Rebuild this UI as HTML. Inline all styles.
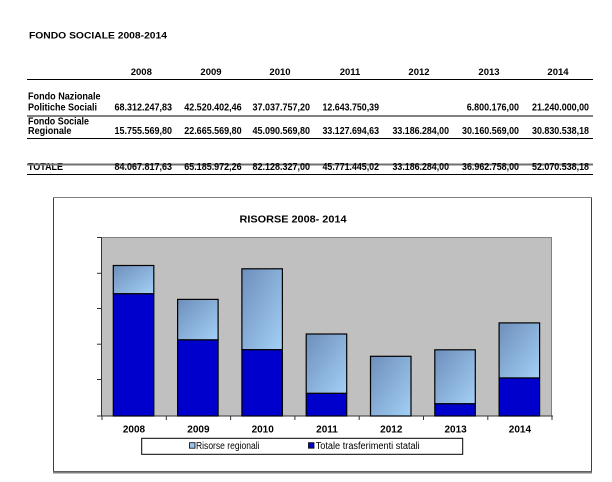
<!DOCTYPE html>
<html><head><meta charset="utf-8"><style>
html,body{margin:0;padding:0;background:#fff;}
svg{display:block;}
text{font-family:"Liberation Sans",Arial,sans-serif;}
</style></head><body>
<svg width="612" height="482" viewBox="0 0 612 482" xmlns="http://www.w3.org/2000/svg">
<defs>
<linearGradient id="lg" x1="0" y1="0" x2="1" y2="1">
<stop offset="0" stop-color="#6d8fbb"/>
<stop offset="1" stop-color="#a3cff6"/>
</linearGradient>
</defs>
<rect width="612" height="482" fill="#fff"/>
<!-- Table -->
<text x="29" y="38.5" font-size="9.5" font-weight="bold" textLength="138" lengthAdjust="spacingAndGlyphs">FONDO SOCIALE 2008-2014</text>
<g font-size="9.5" font-weight="bold" text-anchor="middle">
<text x="141.3" y="75">2008</text>
<text x="211" y="75">2009</text>
<text x="280" y="75">2010</text>
<text x="350" y="75">2011</text>
<text x="419" y="75">2012</text>
<text x="489" y="75">2013</text>
<text x="558" y="75">2014</text>
</g>
<line x1="27" y1="79.5" x2="593" y2="79.5" stroke="#000" stroke-width="1"/>
<g font-size="10" font-weight="bold">
<text x="28" y="99.3" textLength="72.5" lengthAdjust="spacingAndGlyphs">Fondo Nazionale</text>
<text x="28" y="110.7" textLength="69" lengthAdjust="spacingAndGlyphs">Politiche Sociali</text>
<text x="28" y="124.3" textLength="61" lengthAdjust="spacingAndGlyphs">Fondo Sociale</text>
<text x="28" y="134" textLength="43.5" lengthAdjust="spacingAndGlyphs">Regionale</text>
<text x="28" y="170" textLength="35" lengthAdjust="spacingAndGlyphs">TOTALE</text>
</g>
<line x1="27" y1="116" x2="593" y2="116" stroke="#000" stroke-width="1"/>
<line x1="27" y1="138.5" x2="593" y2="138.5" stroke="#000" stroke-width="1"/>
<line x1="27" y1="164.5" x2="593" y2="164.5" stroke="#707070" stroke-width="2"/>
<line x1="27" y1="174.5" x2="593" y2="174.5" stroke="#000" stroke-width="1"/>
<g font-size="10" font-weight="bold" text-anchor="end">
<text x="172" y="110.7" textLength="57.5" lengthAdjust="spacingAndGlyphs">68.312.247,83</text>
<text x="241.7" y="110.7" textLength="57.5" lengthAdjust="spacingAndGlyphs">42.520.402,46</text>
<text x="310" y="110.7" textLength="57.5" lengthAdjust="spacingAndGlyphs">37.037.757,20</text>
<text x="379" y="110.7" textLength="56.5" lengthAdjust="spacingAndGlyphs">12.643.750,39</text>
<text x="519" y="110.7" textLength="52.3" lengthAdjust="spacingAndGlyphs">6.800.176,00</text>
<text x="589" y="110.7" textLength="57" lengthAdjust="spacingAndGlyphs">21.240.000,00</text>

<text x="172" y="134" textLength="57.5" lengthAdjust="spacingAndGlyphs">15.755.569,80</text>
<text x="241.7" y="134" textLength="57.5" lengthAdjust="spacingAndGlyphs">22.665.569,80</text>
<text x="310" y="134" textLength="57.5" lengthAdjust="spacingAndGlyphs">45.090.569,80</text>
<text x="379" y="134" textLength="56.5" lengthAdjust="spacingAndGlyphs">33.127.694,63</text>
<text x="449" y="134" textLength="56.5" lengthAdjust="spacingAndGlyphs">33.186.284,00</text>
<text x="519" y="134" textLength="57" lengthAdjust="spacingAndGlyphs">30.160.569,00</text>
<text x="589" y="134" textLength="57" lengthAdjust="spacingAndGlyphs">30.830.538,18</text>

<text x="172" y="170" textLength="57.5" lengthAdjust="spacingAndGlyphs">84.067.817,63</text>
<text x="241.7" y="170" textLength="57.5" lengthAdjust="spacingAndGlyphs">65.185.972,26</text>
<text x="310" y="170" textLength="57.5" lengthAdjust="spacingAndGlyphs">82.128.327,00</text>
<text x="379" y="170" textLength="56.5" lengthAdjust="spacingAndGlyphs">45.771.445,02</text>
<text x="449" y="170" textLength="56.5" lengthAdjust="spacingAndGlyphs">33.186.284,00</text>
<text x="519" y="170" textLength="57" lengthAdjust="spacingAndGlyphs">36.962.758,00</text>
<text x="589" y="170" textLength="57" lengthAdjust="spacingAndGlyphs">52.070.538,18</text>
</g>

<!-- Chart frame -->
<rect x="53.5" y="197.5" width="538" height="274" fill="#fff" stroke="#404040" stroke-width="1"/>
<line x1="53" y1="472.5" x2="592" y2="472.5" stroke="#808080" stroke-width="2"/>
<line x1="53" y1="197.5" x2="592" y2="197.5" stroke="#808080" stroke-width="1"/>
<text x="293" y="222.3" font-size="10.5" font-weight="bold" text-anchor="middle" textLength="107" lengthAdjust="spacingAndGlyphs">RISORSE 2008- 2014</text>

<!-- Plot area -->
<rect x="102" y="237.3" width="450" height="178.7" fill="#c0c0c0"/>
<line x1="102" y1="237.5" x2="552" y2="237.5" stroke="#808080" stroke-width="1"/>
<line x1="551.5" y1="237.3" x2="551.5" y2="416" stroke="#808080" stroke-width="1"/>
<line x1="101.5" y1="237" x2="101.5" y2="416.5" stroke="#333" stroke-width="1"/>
<g stroke="#333" stroke-width="1">
<line x1="97" y1="237.5" x2="101.5" y2="237.5"/>
<line x1="97" y1="273.3" x2="101.5" y2="273.3"/>
<line x1="97" y1="308.5" x2="101.5" y2="308.5"/>
<line x1="97" y1="344.2" x2="101.5" y2="344.2"/>
<line x1="97" y1="379.5" x2="101.5" y2="379.5"/>
<line x1="97" y1="416" x2="101.5" y2="416"/>
<line x1="101" y1="416" x2="553" y2="416"/>
<line x1="102" y1="416" x2="102" y2="420"/>
<line x1="166.3" y1="416" x2="166.3" y2="420"/>
<line x1="230.6" y1="416" x2="230.6" y2="420"/>
<line x1="294.9" y1="416" x2="294.9" y2="420"/>
<line x1="359.2" y1="416" x2="359.2" y2="420"/>
<line x1="423.5" y1="416" x2="423.5" y2="420"/>
<line x1="487.8" y1="416" x2="487.8" y2="420"/>
<line x1="552" y1="416" x2="552" y2="420"/>
</g>

<!-- Bars -->
<g stroke="#000" stroke-width="1.2">
<!-- 2008 -->
<rect x="113.3" y="265.5" width="40.5" height="28.3" fill="url(#lg)"/>
<rect x="113.3" y="293.8" width="40.5" height="122.2" fill="#0000cc"/>
<!-- 2009 -->
<rect x="177.6" y="299.4" width="40.5" height="40.5" fill="url(#lg)"/>
<rect x="177.6" y="339.9" width="40.5" height="76.1" fill="#0000cc"/>
<!-- 2010 -->
<rect x="241.9" y="268.8" width="40.5" height="80.9" fill="url(#lg)"/>
<rect x="241.9" y="349.7" width="40.5" height="66.3" fill="#0000cc"/>
<!-- 2011 -->
<rect x="306.2" y="334" width="40.5" height="59.4" fill="url(#lg)"/>
<rect x="306.2" y="393.4" width="40.5" height="22.6" fill="#0000cc"/>
<!-- 2012 -->
<rect x="370.5" y="356.3" width="40.5" height="59.7" fill="url(#lg)"/>
<!-- 2013 -->
<rect x="434.8" y="349.8" width="40.5" height="54" fill="url(#lg)"/>
<rect x="434.8" y="403.8" width="40.5" height="12.2" fill="#0000cc"/>
<!-- 2014 -->
<rect x="499.1" y="322.9" width="40.5" height="55.1" fill="url(#lg)"/>
<rect x="499.1" y="378" width="40.5" height="38" fill="#0000cc"/>
</g>

<!-- X labels -->
<g font-size="10" font-weight="bold" text-anchor="middle">
<text x="134" y="432.5">2008</text>
<text x="198.4" y="432.5">2009</text>
<text x="262.7" y="432.5">2010</text>
<text x="327" y="432.5">2011</text>
<text x="391.3" y="432.5">2012</text>
<text x="455.6" y="432.5">2013</text>
<text x="519.9" y="432.5">2014</text>
</g>

<!-- Legend -->
<rect x="141.7" y="438.3" width="321" height="16" fill="#fff" stroke="#000" stroke-width="1"/>
<rect x="189.5" y="442.7" width="5.5" height="5.5" fill="#9cc3ea" stroke="#000" stroke-width="0.8"/>
<text x="196" y="449" font-size="10" textLength="63.5" lengthAdjust="spacingAndGlyphs">Risorse regionali</text>
<rect x="308.5" y="442.7" width="5.5" height="5.5" fill="#0000cc" stroke="#000" stroke-width="0.8"/>
<text x="315.7" y="449" font-size="10" textLength="104" lengthAdjust="spacingAndGlyphs">Totale trasferimenti statali</text>
</svg>
</body></html>
